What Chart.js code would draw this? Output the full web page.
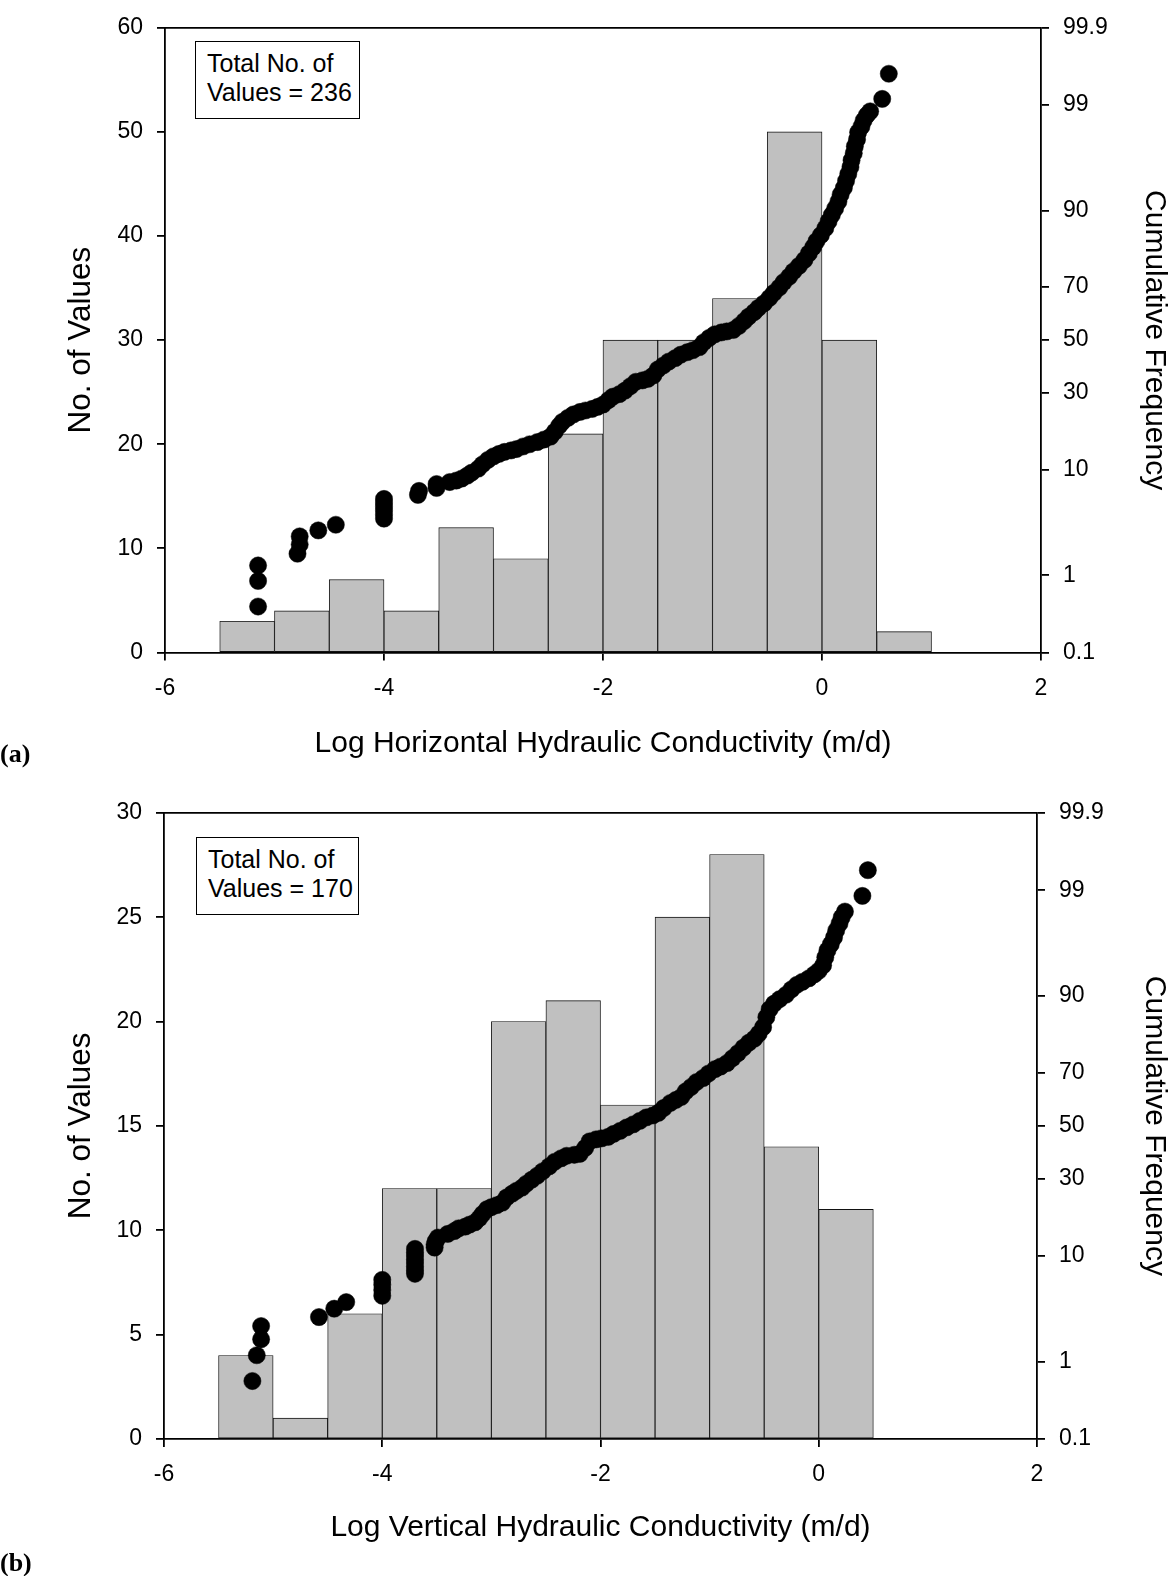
<!DOCTYPE html>
<html>
<head>
<meta charset="utf-8">
<script src="https://cdn.jsdelivr.net/npm/chart.js@4.4.0/dist/chart.umd.min.js"></script>
<style>
  body { margin: 0; background: #fff; }
  .page { position: relative; width: 1175px; height: 1576px; font-family: "Liberation Sans", Arial, sans-serif; }
  .panel { position: absolute; left: 0; width: 1175px; }
  .count-box {
    position: absolute; box-sizing: border-box; border: 1.5px solid #000; background: #fff;
    padding: 7px 0 0 11px; font-size: 25px; line-height: 29px; color: #000;
  }
  .tag { position: absolute; left: 0; font: bold 26px "Liberation Serif", "Times New Roman", serif; line-height: 26px; }
</style>
</head>
<body>
<div class="page">
  <div class="panel" style="top:0;height:785px"><canvas id="chartA"></canvas></div>
  <div class="panel" style="top:785px;height:791px"><canvas id="chartB"></canvas></div>
  <div class="count-box" style="left:195px;top:41px;width:165px;height:78px">Total No. of<br>Values = 236</div>
  <div class="count-box" style="left:196px;top:837px;width:163px;height:78px">Total No. of<br>Values = 170</div>
  <div class="tag" style="top:741px">(a)</div>
  <div class="tag" style="top:1550px">(b)</div>
</div>
<script>
// ======================= DATA =======================
const probTicks = [0.1, 1, 10, 30, 50, 70, 90, 99, 99.9];

// (a) horizontal conductivity: histogram bins (width 0.5) and cumulative points
const binCentersA = [-5.25, -4.75, -4.25, -3.75, -3.25, -2.75, -2.25, -1.75, -1.25, -0.75, -0.25, 0.25, 0.75];
const countsA = [3, 4, 7, 4, 12, 9, 21, 30, 30, 34, 50, 30, 2];
const dotsXA = [
  -5.15, -5.15, -5.15, -4.79, -4.77, -4.77, -4.6, -4.44, -4.0, -4.0,
  -4.0, -4.0, -4.0, -4.0, -3.69, -3.68, -3.52, -3.52, -3.4, -3.34,
  -3.29, -3.24, -3.2, -3.14, -3.1, -3.05, -3.0, -2.95, -2.9, -2.84,
  -2.79, -2.73, -2.67, -2.6, -2.54, -2.48, -2.44, -2.4, -2.37, -2.32,
  -2.27, -2.21, -2.16, -2.1, -2.05, -2.0, -1.95, -1.91, -1.85, -1.8,
  -1.75, -1.7, -1.64, -1.59, -1.54, -1.5, -1.45, -1.4, -1.34, -1.29,
  -1.23, -1.18, -1.12, -1.08, -1.03, -0.98, -0.92, -0.87, -0.81, -0.76,
  -0.71, -0.67, -0.62, -0.58, -0.53, -0.48, -0.44, -0.39, -0.35, -0.3,
  -0.26, -0.21, -0.16, -0.12, -0.08, -0.05, -0.01, 0.03, 0.06, 0.09,
  0.12, 0.15, 0.17, 0.2, 0.22, 0.24, 0.26, 0.27, 0.29, 0.3,
  0.32, 0.33, 0.36, 0.38, 0.41, 0.44, 0.55, 0.61,
];
const dotsPctA = [
  0.42, 0.86, 1.29, 1.73, 2.16, 2.61, 2.99, 3.39, 3.87, 4.21,
  4.57, 4.96, 5.37, 5.81, 6.29, 6.79, 7.18, 7.73, 8.02, 8.24,
  8.54, 9.0, 9.49, 10.17, 10.97, 11.82, 12.51, 13.01, 13.44, 13.76,
  14.07, 14.64, 15.15, 15.67, 16.26, 16.98, 18.26, 19.85, 20.96, 22.1,
  23.12, 23.88, 24.32, 24.8, 25.43, 26.2, 27.66, 28.8, 29.67, 30.85,
  32.42, 34.02, 34.53, 35.09, 36.36, 38.59, 40.09, 41.6, 42.94, 44.28,
  45.26, 46.02, 47.21, 49.16, 50.9, 52.27, 53.03, 53.43, 54.02, 55.57,
  57.5, 59.2, 60.9, 62.55, 64.2, 66.2, 67.98, 69.88, 71.73, 73.5,
  75.23, 76.9, 78.64, 80.45, 82.15, 83.65, 85.06, 86.58, 88.0, 89.23,
  90.36, 91.48, 92.5, 93.42, 94.25, 94.99, 95.66, 96.25, 96.78, 97.24,
  97.65, 98.01, 98.27, 98.51, 98.7, 98.82, 99.15, 99.58,
];

// (b) vertical conductivity
const binCentersB = [-5.25, -4.75, -4.25, -3.75, -3.25, -2.75, -2.25, -1.75, -1.25, -0.75, -0.25, 0.25];
const countsB = [4, 1, 6, 12, 12, 20, 21, 16, 25, 28, 14, 11];
const dotsXB = [
  -5.19, -5.15, -5.11, -5.11, -4.58, -4.44, -4.33, -4.0, -4.0, -4.0,
  -4.0, -3.7, -3.7, -3.7, -3.7, -3.7, -3.7, -3.7, -3.7, -3.52,
  -3.52, -3.51, -3.49, -3.4, -3.34, -3.3, -3.24, -3.2, -3.15, -3.11,
  -3.08, -3.04, -3.0, -2.95, -2.9, -2.86, -2.81, -2.77, -2.72, -2.68,
  -2.63, -2.58, -2.53, -2.47, -2.42, -2.36, -2.31, -2.24, -2.19, -2.14,
  -2.1, -2.04, -1.99, -1.93, -1.88, -1.82, -1.76, -1.7, -1.64, -1.58,
  -1.52, -1.47, -1.42, -1.36, -1.31, -1.26, -1.22, -1.17, -1.12, -1.06,
  -1.01, -0.95, -0.9, -0.84, -0.79, -0.74, -0.69, -0.64, -0.59, -0.55,
  -0.51, -0.48, -0.45, -0.41, -0.36, -0.3, -0.25, -0.2, -0.15, -0.09,
  -0.04, 0.0, 0.04, 0.06, 0.08, 0.11, 0.14, 0.16, 0.19, 0.21,
  0.24, 0.4, 0.45,
];
const dotsPctB = [
  0.59, 1.18, 1.76, 2.41, 2.96, 3.56, 4.1, 4.68, 5.26, 5.85,
  6.43, 7.22, 7.72, 8.26, 8.8, 9.36, 9.96, 10.56, 11.24, 11.49,
  12.08, 12.78, 13.52, 14.32, 14.96, 15.6, 16.01, 16.5, 17.06, 18.14,
  19.24, 20.55, 21.13, 21.7, 22.42, 24.01, 25.17, 26.1, 27.09, 28.4,
  29.77, 31.14, 32.71, 34.5, 36.17, 37.45, 38.4, 38.78, 39.13, 41.42,
  43.92, 44.71, 45.1, 45.7, 46.85, 48.05, 49.4, 50.6, 51.97, 53.34,
  54.11, 55.1, 57.03, 58.95, 60.1, 61.23, 63.3, 64.94, 66.75, 68.16,
  69.74, 71.26, 72.1, 73.24, 74.83, 76.39, 78.02, 79.45, 80.54, 81.86,
  83.5, 85.84, 87.53, 88.61, 89.44, 90.22, 91.12, 91.82, 92.25, 92.74,
  93.27, 93.71, 94.35, 95.19, 95.84, 96.34, 96.86, 97.31, 97.71, 98.02,
  98.28, 98.84, 99.42,
];

// ======================= PROBABILITY AXIS =======================
// inverse normal cdf (Acklam)
function probit(p) {
  const a = [-39.69683028665376, 220.9460984245205, -275.9285104469687, 138.357751867269, -30.66479806614716, 2.506628277459239];
  const b = [-54.47609879822406, 161.5858368580409, -155.6989798598866, 66.80131188771972, -13.28068155288572];
  const c = [-0.007784894002430293, -0.3223964580411365, -2.400758277161838, -2.549732539343734, 4.374664141464968, 2.938163982698783];
  const d = [0.007784695709041462, 0.3224671290700398, 2.445134137142996, 3.754408661907416];
  const lo = 0.02425;
  if (p < lo) {
    const q = Math.sqrt(-2 * Math.log(p));
    return (((((c[0] * q + c[1]) * q + c[2]) * q + c[3]) * q + c[4]) * q + c[5]) / ((((d[0] * q + d[1]) * q + d[2]) * q + d[3]) * q + 1);
  }
  if (p > 1 - lo) {
    const q = Math.sqrt(-2 * Math.log(1 - p));
    return -(((((c[0] * q + c[1]) * q + c[2]) * q + c[3]) * q + c[4]) * q + c[5]) / ((((d[0] * q + d[1]) * q + d[2]) * q + d[3]) * q + 1);
  }
  const q = p - 0.5, r = q * q;
  return (((((a[0] * r + a[1]) * r + a[2]) * r + a[3]) * r + a[4]) * r + a[5]) * q /
    (((((b[0] * r + b[1]) * r + b[2]) * r + b[3]) * r + b[4]) * r + 1);
}
function normCdf(z) {
  const t = 1 / (1 + 0.3275911 * Math.abs(z) / Math.SQRT2);
  const y = 1 - ((((1.061405429 * t - 1.453152027) * t + 1.421413741) * t - 0.284496736) * t + 0.254829592) * t * Math.exp(-z * z / 2);
  return z >= 0 ? (1 + y) / 2 : (1 - y) / 2;
}

class ProbitScale extends Chart.Scale {
  static id = "probit";
  static defaults = {};
  determineDataLimits() {
    this.min = this.options.min ?? 0.1;
    this.max = this.options.max ?? 99.9;
  }
  buildTicks() {
    return probTicks.map((v) => ({ value: v }));
  }
  getLabelForValue(v) {
    return String(v);
  }
  configure() {
    super.configure();
    this._zMin = probit(this.min / 100);
    this._zMax = probit(this.max / 100);
  }
  getPixelForValue(v) {
    const z = probit(v / 100);
    return this.getPixelForDecimal((z - this._zMin) / (this._zMax - this._zMin));
  }
  getValueForPixel(px) {
    const z = this._zMin + this.getDecimalForPixel(px) * (this._zMax - this._zMin);
    return normCdf(z) * 100;
  }
}
Chart.register(ProbitScale);

// top edge of the plot frame
const frameTop = {
  id: "frameTop",
  afterDraw(chart) {
    const { ctx, chartArea } = chart;
    ctx.save();
    ctx.strokeStyle = "#000";
    ctx.lineWidth = 1.8;
    ctx.beginPath();
    ctx.moveTo(chartArea.left, chartArea.top);
    ctx.lineTo(chartArea.right, chartArea.top);
    ctx.stroke();
    ctx.restore();
  },
};

const FAMILY = '"Liberation Sans", Arial, sans-serif';
const tickFont = { family: FAMILY, size: 23 };
const titleFont = { family: FAMILY, size: 30 };
const axisGrid = { drawOnChartArea: false, tickLength: 8, color: "#000", lineWidth: 1.8 };
const axisBorder = { color: "#000", width: 1.8 };

function histChart(id, cfg) {
  return new Chart(document.getElementById(id), {
    type: "bar",
    data: {
      datasets: [
        {
          type: "scatter",
          data: cfg.dotsX.map((x, i) => ({ x: x, y: cfg.dotsPct[i] })),
          yAxisID: "y2",
          backgroundColor: "#000",
          borderColor: "#000",
          borderWidth: 0.5,
          pointRadius: 8.6,
          order: 0,
        },
        {
          type: "bar",
          data: cfg.bins.map((x, i) => ({ x: x, y: cfg.counts[i] })),
          yAxisID: "y",
          backgroundColor: "#c0c0c0",
          borderColor: "#111",
          borderWidth: 0.9,
          borderSkipped: false,
          barPercentage: 1,
          categoryPercentage: 1,
          order: 1,
        },
      ],
    },
    options: {
      responsive: true,
      maintainAspectRatio: false,
      animation: false,
      events: [],
      layout: { padding: { top: cfg.top, left: 0, right: 0, bottom: 0 } },
      plugins: { legend: { display: false }, tooltip: { enabled: false } },
      scales: {
        x: {
          type: "linear",
          position: "bottom",
          min: -6,
          max: 2,
          offset: false,
          ticks: { stepSize: 2, padding: 14, color: "#000", font: tickFont, callback: (v) => String(v) },
          grid: { ...axisGrid, offset: false },
          border: axisBorder,
          title: { display: true, text: cfg.xTitle, color: "#000", font: titleFont, padding: { top: 0, bottom: cfg.xTitlePad } },
          afterFit: (s) => { s.height = cfg.xHeight; },
        },
        y: {
          type: "linear",
          position: "left",
          min: 0,
          max: cfg.yMax,
          ticks: { stepSize: cfg.yStep, padding: 14, color: "#000", font: tickFont },
          grid: axisGrid,
          border: axisBorder,
          title: { display: true, text: "No. of Values", color: "#000", font: { family: FAMILY, size: 31.5 }, padding: { top: 62, bottom: 0 } },
          afterFit: (s) => { s.width = cfg.yWidth; },
        },
        y2: {
          type: "probit",
          position: "right",
          min: 0.1,
          max: 99.9,
          ticks: { padding: 14, autoSkip: false, color: "#000", font: tickFont, callback: (v) => String(v) },
          grid: axisGrid,
          border: axisBorder,
          title: { display: true, text: "Cumulative Frequency", color: "#000", font: titleFont, padding: { top: 3, bottom: 0 } },
          afterFit: (s) => { s.width = cfg.y2Width; },
        },
      },
    },
    plugins: [frameTop],
  });
}

// ======================= (a) =======================
histChart("chartA", {
  bins: binCentersA,
  counts: countsA,
  dotsX: dotsXA,
  dotsPct: dotsPctA,
  yMax: 60,
  yStep: 10,
  xTitle: "Log Horizontal Hydraulic Conductivity (m/d)",
  top: 20,
  yWidth: 165,
  y2Width: 134,
  xHeight: 132.5,
  xTitlePad: 23,
});

// ======================= (b) =======================
histChart("chartB", {
  bins: binCentersB,
  counts: countsB,
  dotsX: dotsXB,
  dotsPct: dotsPctB,
  yMax: 30,
  yStep: 5,
  xTitle: "Log Vertical Hydraulic Conductivity (m/d)",
  top: 26,
  yWidth: 164,
  y2Width: 138,
  xHeight: 137,
  xTitlePad: 30,
});
</script>
</body>
</html>
